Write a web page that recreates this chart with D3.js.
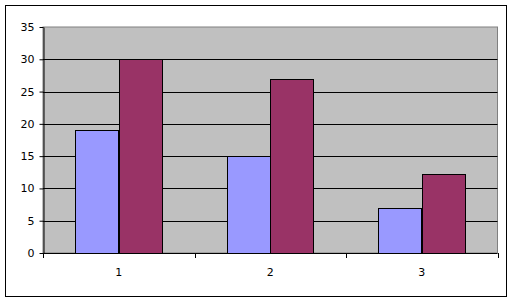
<!DOCTYPE html>
<html><head><meta charset="utf-8">
<script src="https://cdn.jsdelivr.net/npm/d3@7"></script>
<style>html,body{margin:0;padding:0;background:#fff;}svg{display:block;}</style>
</head><body>
<script>
const categories = ["1", "2", "3"];
const series1 = [19, 15, 7];
const series2 = [30, 27, 12.3];
const yTicks = [0, 5, 10, 15, 20, 25, 30, 35];
const colors = ["#9999FF", "#993366"];

const W = 514, H = 302;
const plot = {l: 43, t: 27, r: 497.5, b: 253};
const svg = d3.select("body").append("svg").attr("width", W).attr("height", H);

svg.append("rect").attr("x", 5.5).attr("y", 5.5).attr("width", 501).attr("height", 291)
  .attr("fill", "#fff").attr("stroke", "#000").attr("stroke-width", 1);

const x = d3.scaleBand().domain(categories).range([plot.l, plot.r]).paddingInner(0).paddingOuter(0);
const y = d3.scaleLinear().domain([0, 35]).range([plot.b, plot.t]);

svg.append("rect").attr("x", plot.l).attr("y", plot.t).attr("width", plot.r - plot.l).attr("height", plot.b - plot.t)
  .attr("fill", "#C0C0C0").attr("stroke", "#808080").attr("stroke-width", 1);

svg.append("g").selectAll("line").data(yTicks.filter(d => d > 0 && d < 35)).join("line")
  .attr("x1", plot.l).attr("x2", plot.r)
  .attr("y1", d => Math.round(y(d)) + 0.5).attr("y2", d => Math.round(y(d)) + 0.5)
  .attr("stroke", "#000").attr("stroke-width", 1);

const bw = x.bandwidth() / 3.5;
const data = [series1, series2];
data.forEach((s, si) => {
  svg.append("g").selectAll("rect").data(s).join("rect")
    .attr("x", (d, i) => Math.round(x(categories[i]) + 0.75 * bw + si * bw) + 0.5)
    .attr("width", Math.round(bw))
    .attr("y", d => Math.round(y(d)) + 0.5)
    .attr("height", d => plot.b - Math.round(y(d)))
    .attr("fill", colors[si]).attr("stroke", "#000").attr("stroke-width", 1);
});

const yAxis = d3.axisLeft(y).tickValues(yTicks).tickSize(4).tickPadding(5).tickSizeOuter(0);
const gy = svg.append("g").attr("transform", `translate(${plot.l + 0.5},0)`).call(yAxis);
gy.selectAll("text").attr("font-family", "Verdana, 'DejaVu Sans', sans-serif").attr("font-size", 11).attr("fill", "#000");
gy.selectAll("line,path").attr("stroke", "#000");

const xAxis = d3.axisBottom(x).tickSize(0).tickPadding(15);
const gx = svg.append("g").attr("transform", `translate(0,${plot.b + 0.5})`).call(xAxis);
gx.select("path").attr("stroke", "#000").attr("d", `M${plot.l},0H${plot.r}`);
gx.selectAll("text").attr("font-family", "Verdana, 'DejaVu Sans', sans-serif").attr("font-size", 11).attr("fill", "#000");

const bounds = [plot.l, ...categories.map(c => x(c) + x.bandwidth())];
svg.append("g").selectAll("line").data(bounds).join("line")
  .attr("x1", d => Math.round(d) + 0.5).attr("x2", d => Math.round(d) + 0.5)
  .attr("y1", plot.b).attr("y2", plot.b + 5).attr("stroke", "#000");
</script>
</body></html>
